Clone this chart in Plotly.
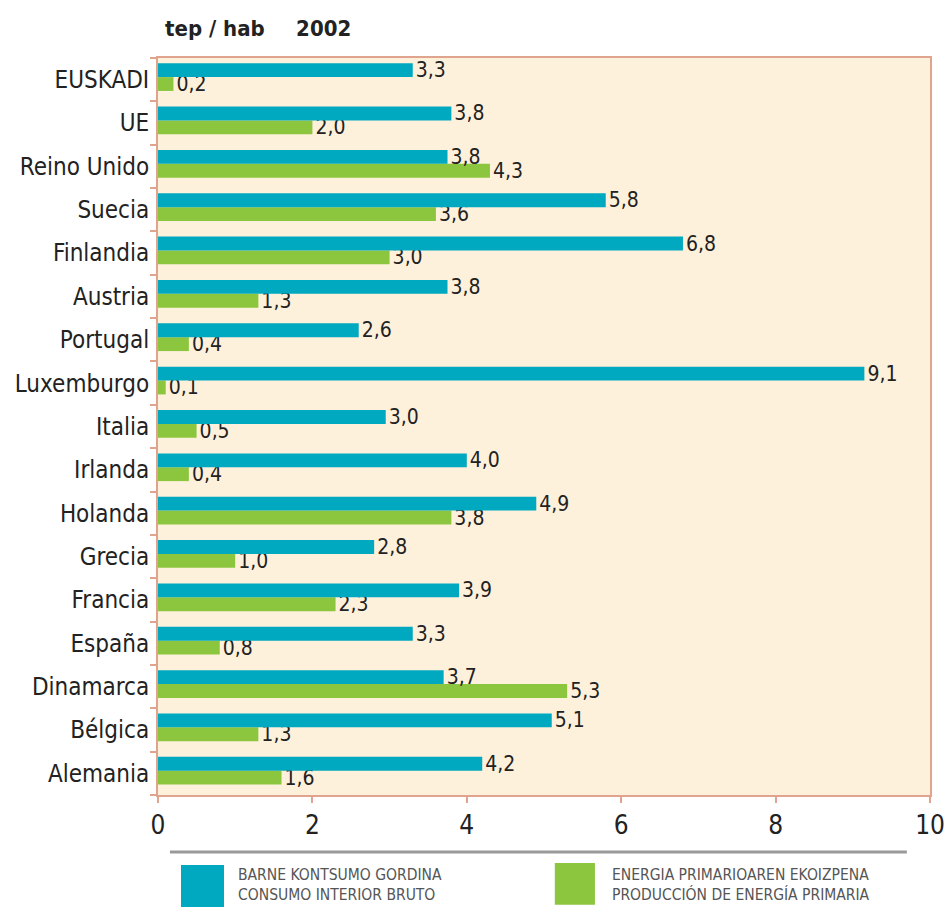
import plotly.graph_objects as go

countries = ["EUSKADI", "UE", "Reino Unido", "Suecia", "Finlandia", "Austria", "Portugal",
             "Luxemburgo", "Italia", "Irlanda", "Holanda", "Grecia", "Francia", "España",
             "Dinamarca", "Bélgica", "Alemania"]
consumo = [3.3, 3.8, 3.75, 5.8, 6.8, 3.75, 2.6, 9.15, 2.95, 4.0, 4.9, 2.8, 3.9, 3.3, 3.7, 5.1, 4.2]
consumo_lbl = [3.3, 3.8, 3.8, 5.8, 6.8, 3.8, 2.6, 9.1, 3.0, 4.0, 4.9, 2.8, 3.9, 3.3, 3.7, 5.1, 4.2]
produccion = [0.2, 2.0, 4.3, 3.6, 3.0, 1.3, 0.4, 0.1, 0.5, 0.4, 3.8, 1.0, 2.3, 0.8, 5.3, 1.3, 1.6]
x_ticks = [0, 2, 4, 6, 8, 10]
legend_names = ["BARNE KONTSUMO GORDINA<br>CONSUMO INTERIOR BRUTO",
                "ENERGIA PRIMARIOAREN EKOIZPENA<br>PRODUCCIÓN DE ENERGÍA PRIMARIA"]

FONT = "DejaVu Sans Condensed, Liberation Sans Narrow, sans-serif"
CYAN = "#00A9BF"
GREEN = "#8CC63F"
AXIS = "#E0A48E"

def fmt(v):
    return f"{v:.1f}".replace(".", ",")

fig = go.Figure()
fig.add_trace(go.Bar(
    y=countries, x=produccion, orientation="h", marker_color=GREEN, marker_line_width=0,
    width=0.32, offset=-0.26,
    text=[fmt(v) for v in produccion], textposition="outside", cliponaxis=False,
    constraintext="none",
    textfont=dict(family=FONT, size=21, color="#222"), name="produccion"))
fig.add_trace(go.Bar(
    y=countries, x=consumo, orientation="h", marker_color=CYAN, marker_line_width=0,
    width=0.32, offset=0.06,
    text=[fmt(v) for v in consumo_lbl], textposition="outside", cliponaxis=False,
    constraintext="none",
    textfont=dict(family=FONT, size=21, color="#222"), name="consumo"))

fig.update_layout(
    width=944, height=914,
    margin=dict(l=158, r=14, t=58, b=119),
    barmode="overlay",
    plot_bgcolor="#FEF1DC", paper_bgcolor="white",
    showlegend=False,
    font=dict(family=FONT, color="#222"),
)
fig.update_yaxes(
    categoryorder="array", categoryarray=countries[::-1],
    showline=True, linecolor=AXIS, linewidth=2, mirror=True,
    ticks="outside", tickson="boundaries", ticklen=6, tickcolor=AXIS, tickwidth=2,
    tickfont=dict(family=FONT, size=24, color="#222"), showgrid=False, ticklabelstandoff=2,
    automargin=False,
)
fig.update_xaxes(
    range=[0, 10], tickvals=x_ticks, ticktext=[str(t) for t in x_ticks],
    showline=True, linecolor=AXIS, linewidth=2, mirror=True,
    ticks="outside", ticklen=6, tickcolor=AXIS, tickwidth=2,
    tickfont=dict(family=FONT, size=26, color="#222"), showgrid=False, zeroline=False,
    automargin=False, ticklabeloverflow="allow",
)

# title
fig.add_annotation(xref="paper", yref="paper", x=0.0065, y=1.0, yshift=30, xanchor="left",
                   yanchor="middle", showarrow=False,
                   text="<b>tep / hab</b>     <b>2002</b>",
                   font=dict(family=FONT, size=22, color="#222"))

# legend
fig.add_shape(type="line", xref="paper", yref="paper", x0=0.0155, x1=0.970,
              y0=-0.0773, y1=-0.0773, line=dict(color="#999", width=3))
fig.add_shape(type="rect", xref="paper", yref="paper", x0=0.0298, x1=0.0855,
              y0=-0.152, y1=-0.095, fillcolor=CYAN, line_width=0)
fig.add_shape(type="rect", xref="paper", yref="paper", x0=0.514, x1=0.566,
              y0=-0.149, y1=-0.0923, fillcolor=GREEN, line_width=0)
fig.add_annotation(xref="paper", yref="paper", x=0.101, y=-0.122, xanchor="left",
                   yanchor="middle", showarrow=False, align="left",
                   text=legend_names[0], font=dict(family=FONT, size=15.5, color="#555"))
fig.add_annotation(xref="paper", yref="paper", x=0.5855, y=-0.122, xanchor="left",
                   yanchor="middle", showarrow=False, align="left",
                   text=legend_names[1], font=dict(family=FONT, size=15.5, color="#555"))

fig.write_html("out.html", config={"displayModeBar": False},
               post_script="document.body.style.margin='0';")
